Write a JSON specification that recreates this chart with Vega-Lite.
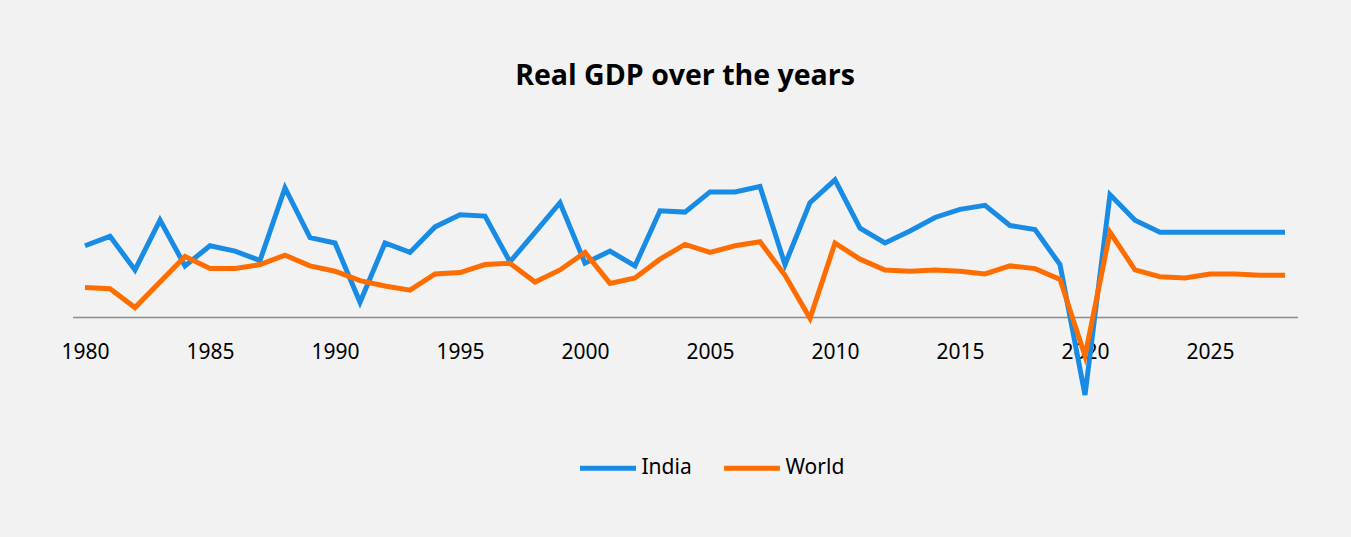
{
  "$schema": "https://vega.github.io/schema/vega-lite/v6.json",
  "autosize": {"type": "none"},
  "width": 1225,
  "height": 161.4,
  "padding": {"left": 72.5, "top": 155.6, "right": 53.5, "bottom": 220},
  "background": "#F2F2F2",
  "config": {"view": {"stroke": null}},
  "title": {
    "text": "Real GDP over the years",
    "font": "Open Sans",
    "fontSize": 28.5,
    "fontWeight": "bold",
    "color": "#000000",
    "anchor": "middle",
    "baseline": "alphabetic",
    "offset": 42
  },
  "datasets": {
    "gdp": [
      {"year": 1980, "series": "India", "value": 5.3}, {"year": 1981, "series": "India", "value": 6.0},
      {"year": 1982, "series": "India", "value": 3.5}, {"year": 1983, "series": "India", "value": 7.2},
      {"year": 1984, "series": "India", "value": 3.8}, {"year": 1985, "series": "India", "value": 5.3},
      {"year": 1986, "series": "India", "value": 4.9}, {"year": 1987, "series": "India", "value": 4.2},
      {"year": 1988, "series": "India", "value": 9.6}, {"year": 1989, "series": "India", "value": 5.9},
      {"year": 1990, "series": "India", "value": 5.5}, {"year": 1991, "series": "India", "value": 1.1},
      {"year": 1992, "series": "India", "value": 5.5}, {"year": 1993, "series": "India", "value": 4.8},
      {"year": 1994, "series": "India", "value": 6.7}, {"year": 1995, "series": "India", "value": 7.6},
      {"year": 1996, "series": "India", "value": 7.5}, {"year": 1997, "series": "India", "value": 4.1},
      {"year": 1998, "series": "India", "value": 6.3}, {"year": 1999, "series": "India", "value": 8.5},
      {"year": 2000, "series": "India", "value": 4.0}, {"year": 2001, "series": "India", "value": 4.9},
      {"year": 2002, "series": "India", "value": 3.8}, {"year": 2003, "series": "India", "value": 7.9},
      {"year": 2004, "series": "India", "value": 7.8}, {"year": 2005, "series": "India", "value": 9.3},
      {"year": 2006, "series": "India", "value": 9.3}, {"year": 2007, "series": "India", "value": 9.7},
      {"year": 2008, "series": "India", "value": 3.9}, {"year": 2009, "series": "India", "value": 8.5},
      {"year": 2010, "series": "India", "value": 10.2}, {"year": 2011, "series": "India", "value": 6.6},
      {"year": 2012, "series": "India", "value": 5.5}, {"year": 2013, "series": "India", "value": 6.4},
      {"year": 2014, "series": "India", "value": 7.4}, {"year": 2015, "series": "India", "value": 8.0},
      {"year": 2016, "series": "India", "value": 8.3}, {"year": 2017, "series": "India", "value": 6.8},
      {"year": 2018, "series": "India", "value": 6.5}, {"year": 2019, "series": "India", "value": 3.9},
      {"year": 2020, "series": "India", "value": -5.8}, {"year": 2021, "series": "India", "value": 9.1},
      {"year": 2022, "series": "India", "value": 7.2}, {"year": 2023, "series": "India", "value": 6.3},
      {"year": 2024, "series": "India", "value": 6.3}, {"year": 2025, "series": "India", "value": 6.3},
      {"year": 2026, "series": "India", "value": 6.3}, {"year": 2027, "series": "India", "value": 6.3},
      {"year": 2028, "series": "India", "value": 6.3},
      {"year": 1980, "series": "World", "value": 2.2}, {"year": 1981, "series": "World", "value": 2.1},
      {"year": 1982, "series": "World", "value": 0.7}, {"year": 1983, "series": "World", "value": 2.6},
      {"year": 1984, "series": "World", "value": 4.5}, {"year": 1985, "series": "World", "value": 3.6},
      {"year": 1986, "series": "World", "value": 3.6}, {"year": 1987, "series": "World", "value": 3.9},
      {"year": 1988, "series": "World", "value": 4.6}, {"year": 1989, "series": "World", "value": 3.8},
      {"year": 1990, "series": "World", "value": 3.4}, {"year": 1991, "series": "World", "value": 2.7},
      {"year": 1992, "series": "World", "value": 2.3}, {"year": 1993, "series": "World", "value": 2.0},
      {"year": 1994, "series": "World", "value": 3.2}, {"year": 1995, "series": "World", "value": 3.3},
      {"year": 1996, "series": "World", "value": 3.9}, {"year": 1997, "series": "World", "value": 4.0},
      {"year": 1998, "series": "World", "value": 2.6}, {"year": 1999, "series": "World", "value": 3.5},
      {"year": 2000, "series": "World", "value": 4.8}, {"year": 2001, "series": "World", "value": 2.5},
      {"year": 2002, "series": "World", "value": 2.9}, {"year": 2003, "series": "World", "value": 4.3},
      {"year": 2004, "series": "World", "value": 5.4}, {"year": 2005, "series": "World", "value": 4.8},
      {"year": 2006, "series": "World", "value": 5.3}, {"year": 2007, "series": "World", "value": 5.6},
      {"year": 2008, "series": "World", "value": 3.1}, {"year": 2009, "series": "World", "value": -0.1},
      {"year": 2010, "series": "World", "value": 5.5}, {"year": 2011, "series": "World", "value": 4.3},
      {"year": 2012, "series": "World", "value": 3.5}, {"year": 2013, "series": "World", "value": 3.4},
      {"year": 2014, "series": "World", "value": 3.5}, {"year": 2015, "series": "World", "value": 3.4},
      {"year": 2016, "series": "World", "value": 3.2}, {"year": 2017, "series": "World", "value": 3.8},
      {"year": 2018, "series": "World", "value": 3.6}, {"year": 2019, "series": "World", "value": 2.8},
      {"year": 2020, "series": "World", "value": -2.9}, {"year": 2021, "series": "World", "value": 6.3},
      {"year": 2022, "series": "World", "value": 3.5}, {"year": 2023, "series": "World", "value": 3.0},
      {"year": 2024, "series": "World", "value": 2.9}, {"year": 2025, "series": "World", "value": 3.2},
      {"year": 2026, "series": "World", "value": 3.2}, {"year": 2027, "series": "World", "value": 3.1},
      {"year": 2028, "series": "World", "value": 3.1}
    ]
  },
  "data": {"name": "gdp"},
  "mark": {"type": "line", "strokeWidth": 5, "strokeJoin": "miter"},
  "encoding": {
    "x": {
      "field": "year",
      "type": "quantitative",
      "scale": {"domain": [1979.5, 2028.5], "nice": false, "zero": false},
      "axis": {
        "title": null,
        "values": [1980, 1985, 1990, 1995, 2000, 2005, 2010, 2015, 2020, 2025],
        "format": "d",
        "grid": false,
        "ticks": false,
        "domainColor": "#8C8C8C",
        "domainWidth": 1.5,
        "labelFont": "Noto Sans",
        "labelFontSize": 21,
        "labelColor": "#000000",
        "labelPadding": 24,
        "labelFlush": false,
        "labelOverlap": false
      }
    },
    "y": {
      "field": "value",
      "type": "quantitative",
      "scale": {"domain": [0, 12], "nice": false, "zero": false},
      "axis": null
    },
    "color": {
      "field": "series",
      "type": "nominal",
      "scale": {"domain": ["India", "World"], "range": ["#188CE5", "#FF6D00"]},
      "legend": {
        "title": null,
        "orient": "none",
        "legendX": 505,
        "legendY": 282,
        "direction": "horizontal",
        "symbolType": "stroke",
        "symbolSize": 3136,
        "symbolStrokeWidth": 5,
        "labelFont": "Noto Sans",
        "labelFontSize": 21,
        "labelColor": "#000000",
        "labelOffset": 3,
        "columnPadding": 21
      }
    }
  }
}
